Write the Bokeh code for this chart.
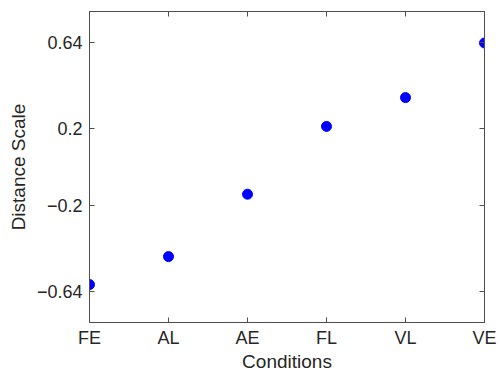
from bokeh.plotting import figure
from bokeh.models import LinearAxis, FixedTicker, Range1d, ColumnDataSource
from bokeh.embed import file_html
from bokeh.resources import INLINE

categories = ["FE", "AL", "AE", "FL", "VL", "VE"]
values = [-0.605, -0.461, -0.14, 0.209, 0.357, 0.638]
y_ticks = [-0.64, -0.2, 0.2, 0.64]

xs = list(range(1, len(categories) + 1))
src = ColumnDataSource(dict(x=xs, y=values, cat=categories))

FONT = "Liberation Sans"
AX = "#4d4d4d"
TXT = "#262626"

p = figure(width=500, height=374, output_backend="svg", toolbar_location=None,
           x_range=Range1d(1, 6), y_range=Range1d(-0.8, 0.8),
           x_axis_location=None, y_axis_location=None,
           min_border_left=89, min_border_top=11, min_border_right=16, min_border_bottom=51)
p.xgrid.visible = False
p.ygrid.visible = False
p.outline_line_color = AX
p.outline_line_width = 1

def style(ax):
    ax.axis_line_color = AX
    ax.axis_line_width = 1
    ax.major_tick_line_color = AX
    ax.major_tick_line_width = 1
    ax.major_tick_in = 5
    ax.major_tick_out = 0
    ax.minor_tick_line_color = None
    ax.major_label_text_color = TXT
    ax.major_label_text_font = FONT
    ax.major_label_text_font_size = "18px"
    ax.axis_label_text_font = FONT
    ax.axis_label_text_font_size = "19px"
    ax.axis_label_text_font_style = "normal"
    ax.axis_label_text_color = TXT

xb = LinearAxis(ticker=FixedTicker(ticks=xs), axis_label="Conditions")
xb.major_label_overrides = {x: c for x, c in zip(xs, categories)}
style(xb)
xb.major_label_standoff = 5
xb.axis_label_standoff = 0
p.add_layout(xb, "below")

yl = LinearAxis(ticker=FixedTicker(ticks=y_ticks), axis_label="Distance Scale")
yl.major_label_overrides = {t: ("%g" % t).replace("-", "\u2212") for t in y_ticks}
style(yl)
yl.major_label_standoff = 7
yl.axis_label_standoff = 5
p.add_layout(yl, "left")

xt = LinearAxis(ticker=FixedTicker(ticks=xs))
style(xt)
xt.major_label_overrides = {x: "" for x in xs}
xt.major_label_standoff = 0
p.add_layout(xt, "above")

yr = LinearAxis(ticker=FixedTicker(ticks=y_ticks))
style(yr)
yr.major_label_overrides = {t: "" for t in y_ticks}
yr.major_label_standoff = 0
p.add_layout(yr, "right")

p.scatter("x", "y", source=src, size=10, color="#0000FF", line_color="#0000FF")

open("out.html", "w").write(file_html(p, INLINE))
